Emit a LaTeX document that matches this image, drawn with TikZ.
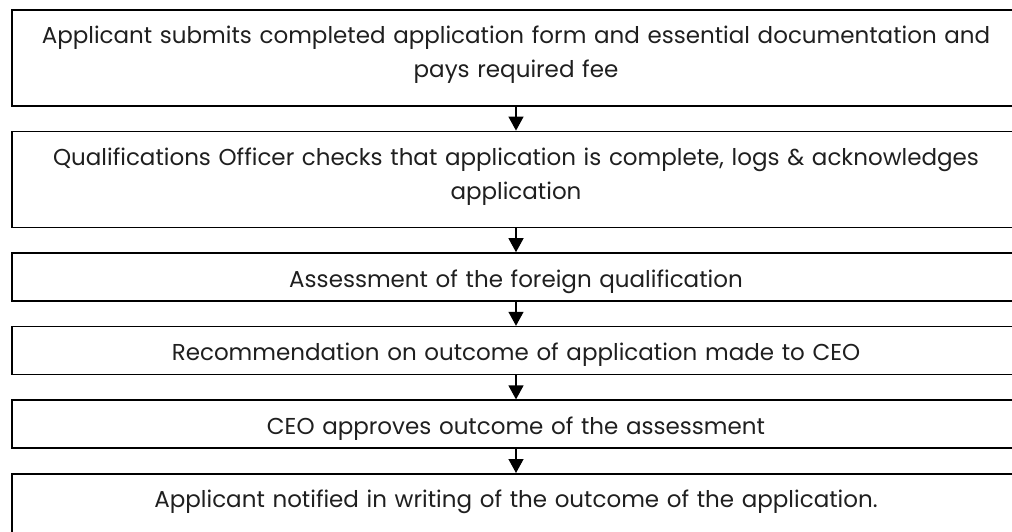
\documentclass[tikz,border=0pt]{standalone}
\usepackage{fontspec}
\setmainfont{Poppins}
\usetikzlibrary{positioning, arrows.meta}

\begin{document}
\begin{tikzpicture}[>={Triangle[length=14pt,width=15pt]},
    stage/.style={draw, line width=1.6pt, inner sep=0pt, text width=1008pt,
        align=center, text height=34pt, text=black!88,
        font=\fontsize{23}{34}\selectfont},
    tall/.style={stage, text depth=62pt},
    flat/.style={stage, text depth=14pt},
    link/.style={->, line width=1.3pt}]
    % the page has the size of the reference, boxes run off its edges
    \clip (0,0) rectangle (1012pt,-532pt);

    % first stage: the application comes in
    \node[tall, anchor=north] (submit) at (516pt,-9pt)
        {Applicant submits completed application form and essential documentation and\\
         pays required fee};
    % second stage: check and log
    \node[tall, below=24pt of submit] (check)
        {Qualifications Officer checks that application is complete, logs \& acknowledges\\
         application};
    % the three short stages
    \node[flat, below=24pt of check] (assess) {Assessment of the foreign qualification};
    \node[flat, below=24pt of assess] (advise) {Recommendation on outcome of application made to CEO};
    \node[flat, below=24pt of advise] (approve) {CEO approves outcome of the assessment};
    % last stage, cut off by the page
    \node[tall, below=24pt of approve] (notify)
        {Applicant notified in writing of the outcome of the application.};

    % arrows from one stage to the next
    \draw[link] (submit) -- (check);
    \draw[link] (check) -- (assess);
    \draw[link] (assess) -- (advise);
    \draw[link] (advise) -- (approve);
    \draw[link] (approve) -- (notify);
\end{tikzpicture}
\end{document}
